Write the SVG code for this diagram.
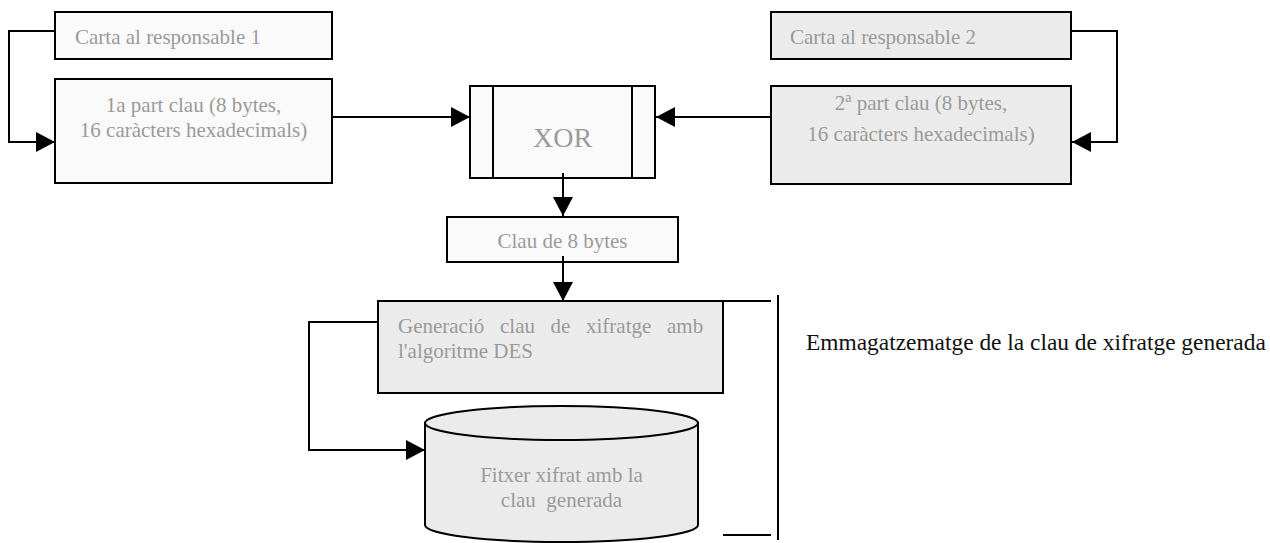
<svg xmlns="http://www.w3.org/2000/svg" width="1270" height="543" viewBox="0 0 1270 543">
  <style>
    .box { stroke: #000; stroke-width: 2; }
    .light { fill: #fafafa; }
    .shade { fill: #ebebeb; }
    .lbl { font-family: "Liberation Serif", "Times New Roman", serif; font-size: 21px; fill: #9a9a9a; }
    .mid { text-anchor: middle; }
    .big { font-size: 28px; }
    .note { font-family: "Liberation Serif", "Times New Roman", serif; font-size: 23.4px; fill: #111; }
    .wire { fill: none; stroke: #000; stroke-width: 2; }
    .arrow { marker-end: url(#head); }
  </style>
  <defs>
    <marker id="head" markerUnits="userSpaceOnUse" markerWidth="20" markerHeight="20" refX="19" refY="10" orient="auto">
      <path d="M0,0 L19,10 L0,20 Z" fill="#000"/>
    </marker>
  </defs>

  <rect width="1270" height="543" fill="#fff"/>

  <!-- key halves -->
  <g id="carta1">
    <rect class="box light" x="55" y="12" width="277" height="47"/>
    <text class="lbl" x="75" y="44">Carta al responsable 1</text>
  </g>
  <g id="part1">
    <rect class="box light" x="55" y="79" width="277" height="104"/>
    <text class="lbl mid" x="193.5" y="112">1a part clau (8 bytes,</text>
    <text class="lbl mid" x="193.5" y="137">16 caràcters hexadecimals)</text>
  </g>
  <g id="carta2">
    <rect class="box shade" x="771" y="12" width="300" height="47"/>
    <text class="lbl" x="790" y="44">Carta al responsable 2</text>
  </g>
  <g id="part2">
    <rect class="box shade" x="771" y="86" width="300" height="98"/>
    <text class="lbl mid" x="921" y="110">2<tspan font-size="14" dy="-8">a</tspan><tspan dy="8"> part clau (8 bytes,</tspan></text>
    <text class="lbl mid" x="921" y="141">16 caràcters hexadecimals)</text>
  </g>

  <!-- combine step -->
  <g id="xor">
    <rect class="box light" x="470" y="86" width="185" height="92"/>
    <line class="box" x1="493" y1="86" x2="493" y2="178"/>
    <line class="box" x1="632" y1="86" x2="632" y2="178"/>
    <text class="lbl mid big" x="562.5" y="147">XOR</text>
  </g>
  <g id="clau">
    <rect class="box light" x="447" y="217" width="231" height="45"/>
    <text class="lbl mid" x="562.5" y="248">Clau de 8 bytes</text>
  </g>
  <g id="generacio">
    <rect class="box shade" x="378" y="301" width="345" height="92"/>
    <text class="lbl" y="333"><tspan x="398">Generació</tspan><tspan x="500">clau</tspan><tspan x="550.5">de</tspan><tspan x="586">xifratge</tspan><tspan x="667">amb</tspan></text>
    <text class="lbl" x="398" y="358">l'algoritme DES</text>
  </g>
  <g id="fitxer">
    <path class="box shade" d="M425,423 L425,525 A136.5,17 0 0 0 698,525 L698,423 Z"/>
    <ellipse class="box shade" cx="561.5" cy="423" rx="136.5" ry="17"/>
    <text class="lbl mid" x="561.5" y="482">Fitxer xifrat amb la</text>
    <text class="lbl mid" x="561.5" y="507" xml:space="preserve">clau  generada</text>
  </g>

  <!-- storage bracket and caption -->
  <g id="emmagatzematge">
    <line class="wire" x1="723" y1="301" x2="771" y2="301"/>
    <line class="wire" x1="723" y1="535" x2="771" y2="535"/>
    <line class="wire" x1="778" y1="295" x2="778" y2="540"/>
    <text class="note" x="806" y="350">Emmagatzematge de la clau de xifratge generada</text>
  </g>

  <g id="connectors">
    <polyline class="wire arrow" points="55,31 9,31 9,142 55,142"/>
    <polyline class="wire arrow" points="1071,31 1117,31 1117,142 1072,142"/>
    <line class="wire arrow" x1="332" y1="117" x2="470" y2="117"/>
    <line class="wire arrow" x1="771" y1="117" x2="656" y2="117"/>
    <line class="wire arrow" x1="563" y1="173" x2="563" y2="216"/>
    <line class="wire arrow" x1="563" y1="256" x2="563" y2="301"/>
    <polyline class="wire arrow" points="378,322 309,322 309,450 425,450"/>
  </g>
</svg>
